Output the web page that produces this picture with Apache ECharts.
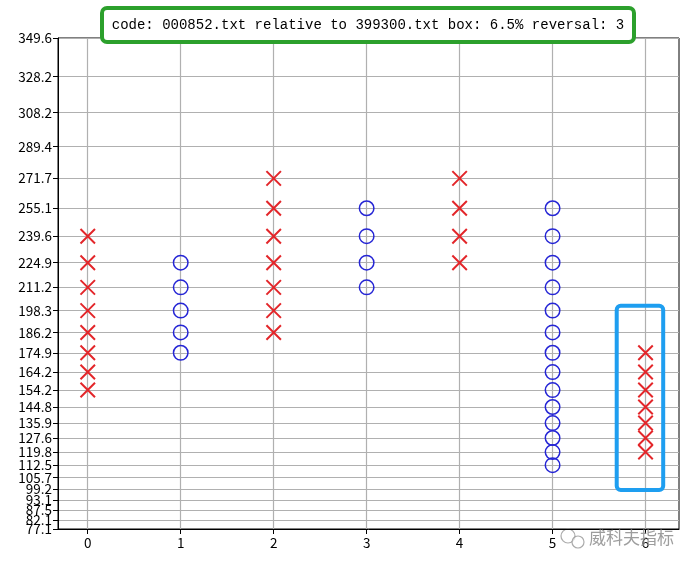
<!DOCTYPE html>
<html>
<head>
<meta charset="utf-8">
<script src="https://cdn.jsdelivr.net/npm/echarts@6/dist/echarts.min.js"></script>
<style>html,body{margin:0;padding:0;background:#fff}#c{width:696px;height:569px}</style>
</head>
<body>
<div id="c"></div>
<script>
// ---- data ----
const titleText = 'code: 000852.txt relative to 399300.txt box: 6.5% reversal: 3';
const boxLevels = [77.1, 82.1, 87.5, 93.1, 99.2, 105.7, 112.5, 119.8, 127.6, 135.9, 144.8, 154.2,
  164.2, 174.9, 186.2, 198.3, 211.2, 224.9, 239.6, 255.1, 271.7, 289.4, 308.2, 328.2, 349.6];
const columnIndex = [0, 1, 2, 3, 4, 5, 6];
const columnType  = ['X', 'O', 'X', 'O', 'X', 'O', 'X'];
const columnLow   = [154.2, 174.9, 186.2, 211.2, 224.9, 112.5, 119.8];
const columnHigh  = [239.6, 224.9, 271.7, 255.1, 271.7, 255.1, 174.9];
const highlightColumn = 6;
const watermark = '威科夫指标';

// build points from the arrays
const xPts = [], oPts = [];
columnIndex.forEach((c, i) => {
  boxLevels.forEach(v => {
    if (v >= columnLow[i] - 1e-9 && v <= columnHigh[i] + 1e-9) {
      (columnType[i] === 'X' ? xPts : oPts).push([c, v]);
    }
  });
});

const chart = echarts.init(document.getElementById('c'), null, {renderer: 'canvas'});
const labelFont = {fontFamily: '"Noto Sans CJK SC", "DejaVu Sans", sans-serif', fontSize: 13.5, color: '#000'};
const yMin = boxLevels[0], yMax = boxLevels[boxLevels.length - 1];
const option = {
  animation: false,
  backgroundColor: '#fff',
  grid: {left: 58, right: 17, top: 38, bottom: 40, show: true, borderColor: '#000', borderWidth: 1, backgroundColor: 'transparent'},
  xAxis: {
    type: 'value', min: -0.32, max: 6.36,
    axisLine: {show: true, onZero: false, lineStyle: {color: '#000', width: 1}},
    axisTick: {show: true, length: 5, customValues: columnIndex, lineStyle: {color: '#000'}},
    axisLabel: Object.assign({customValues: columnIndex, margin: 7, formatter: v => String(v)}, labelFont),
    splitLine: {show: true, lineStyle: {color: '#b0b0b0', width: 1.2}}
  },
  yAxis: [
    {
      type: 'value', min: yMin, max: yMax,
      axisLine: {show: true, onZero: false, lineStyle: {color: '#000', width: 1}},
      axisTick: {show: true, length: 5, customValues: boxLevels, lineStyle: {color: '#000'}},
      axisLabel: Object.assign({customValues: boxLevels, margin: 6, formatter: v => v.toFixed(1),
        hideOverlap: false, showMinLabel: true, showMaxLabel: true}, labelFont),
      splitLine: {show: true, lineStyle: {color: '#b0b0b0', width: 1.2}}
    },
    {
      // companion axis: re-draws the second-lowest level that the overlap fix drops
      type: 'value', min: yMin, max: yMax, position: 'left', offset: 0,
      axisLine: {show: false, onZero: false},
      axisTick: {show: true, length: 5, customValues: [boxLevels[1]], lineStyle: {color: '#000'}},
      axisLabel: Object.assign({customValues: [boxLevels[1]], margin: 6, formatter: v => v.toFixed(1),
        showMinLabel: true, showMaxLabel: true}, labelFont),
      splitLine: {show: false}
    }
  ],
  series: [
    {
      type: 'scatter', name: 'X', data: xPts,
      symbol: 'path://M0,0L10,10M10,0L0,10', symbolSize: 14.5,
      itemStyle: {color: 'none', borderColor: '#e3262a', borderWidth: 2, opacity: 1},
      z: 5
    },
    {
      type: 'scatter', name: 'O', data: oPts,
      symbol: 'circle', symbolSize: 14.5,
      itemStyle: {color: 'none', borderColor: '#2525d5', borderWidth: 1.5, opacity: 1},
      z: 5
    }
  ]
};
chart.setOption(option);

// annotation box around the last column (positioned via axis conversion)
const pTL = chart.convertToPixel({gridIndex: 0}, [highlightColumn - 0.31, 201]);
const pBR = chart.convertToPixel({gridIndex: 0}, [highlightColumn + 0.19, 98.8]);

chart.setOption({
  graphic: [
    {
      type: 'rect', z: 100,
      shape: {x: 102, y: 8, width: 532, height: 34, r: 5},
      style: {fill: '#fff', stroke: '#2ca02c', lineWidth: 4}
    },
    {
      type: 'text', z: 101, x: 368, y: 25,
      style: {text: titleText, font: '14px "Liberation Mono", "DejaVu Sans Mono", monospace', fill: '#000', align: 'center', verticalAlign: 'middle'}
    },
    {
      type: 'rect', z: 100,
      shape: {x: pTL[0], y: pTL[1], width: pBR[0] - pTL[0], height: pBR[1] - pTL[1], r: 4},
      style: {fill: 'none', stroke: '#1e9ef0', lineWidth: 4}
    },
    {
      type: 'group', z: 100, x: 560, y: 528,
      children: [
        {type: 'circle', shape: {cx: 8, cy: 8, r: 7}, style: {fill: 'none', stroke: 'rgba(150,150,150,0.8)', lineWidth: 1.2}},
        {type: 'circle', shape: {cx: 18, cy: 14, r: 6}, style: {fill: 'rgba(255,255,255,0.6)', stroke: 'rgba(150,150,150,0.8)', lineWidth: 1.2}}
      ]
    },
    {
      type: 'text', z: 100, x: 589, y: 538,
      style: {text: watermark, font: '17px "Noto Sans CJK SC", sans-serif', fill: 'rgba(140,140,140,0.85)', verticalAlign: 'middle'}
    }
  ]
});
</script>
</body>
</html>
